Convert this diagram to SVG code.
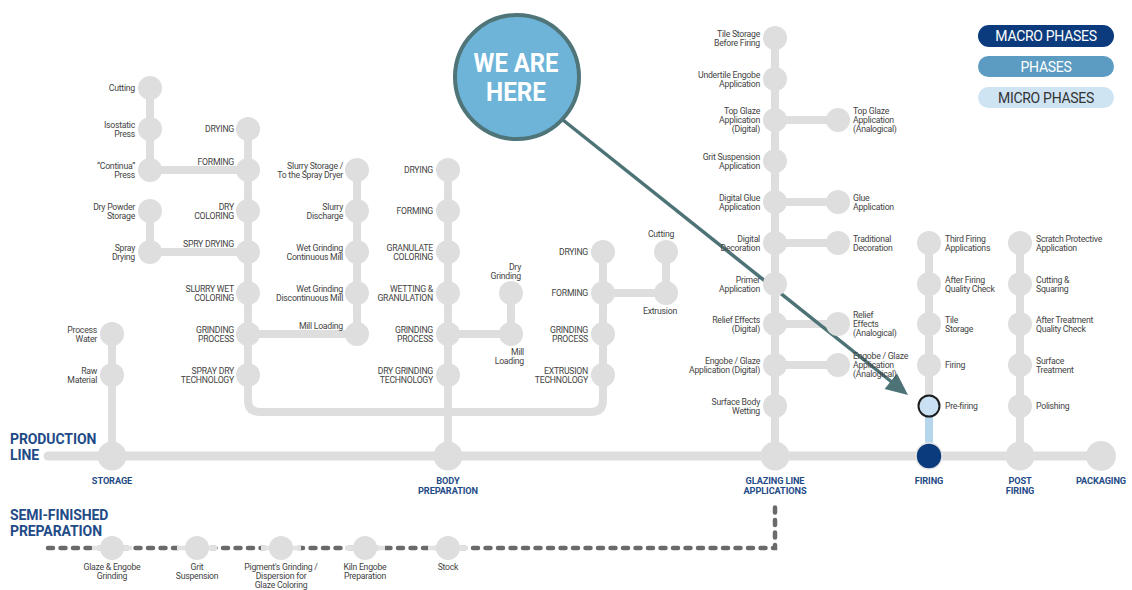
<svg xmlns="http://www.w3.org/2000/svg" width="1132" height="590" viewBox="0 0 1132 590">
<style>
.ln{stroke:#dedede;stroke-width:8;fill:none;stroke-linecap:round;stroke-linejoin:round}
.n{fill:#dedede}
.N{fill:#dedede}
.t{font-family:Roboto,"Liberation Sans",sans-serif;font-size:8.7px;fill:#444444;letter-spacing:-0.25px}
.e{text-anchor:end}
.m{text-anchor:middle}
.b{font-family:Roboto,"Liberation Sans",sans-serif;font-size:9.2px;font-weight:bold;fill:#1f4b87;text-anchor:middle;letter-spacing:-0.1px}
.h{font-family:Roboto,"Liberation Sans",sans-serif;font-size:14px;font-weight:bold;fill:#1f4b87;letter-spacing:-0.1px}
.lg{font-family:Roboto,"Liberation Sans",sans-serif;font-size:14px;text-anchor:middle;letter-spacing:-0.3px}
</style>
<rect width="1132" height="590" fill="#ffffff"/>

<g id="connectors">
<path class="ln" style="stroke-width:9" d="M48,456 H1101"/>
<path class="ln" d="M112,334 V456"/>
<path class="ln" d="M150,88 V170 H248"/>
<path class="ln" d="M150,211 V252 H248"/>
<path class="ln" d="M248,129 V400 Q248,412 260,412 H591 Q603,412 603,400 V252"/>
<path class="ln" d="M248,334 H357 V170"/>
<path class="ln" d="M448,170 V456"/>
<path class="ln" d="M448,334 H511 V293"/>
<path class="ln" d="M603,293 H666 V252"/>
<path class="ln" d="M775,38 V456"/>
<path class="ln" d="M775,120 H838 M775,202 H838 M775,243 H838 M775,324 H838 M775,365 H838"/>
<path class="ln" d="M929,243 V406"/>
<path class="ln" d="M1020,243 V456"/>
<path d="M929,406 V456" stroke="#b5d6ec" stroke-width="8" fill="none"/>
<path d="M48,548 H775 V505" stroke="#6a6a6c" stroke-width="4.5" fill="none" stroke-dasharray="5 7.5" stroke-linecap="round"/>
<path d="M92,548 H132 M177,548 H217 M261,548 H301 M345,548 H385 M428,548 H468" stroke="#e2e2e2" stroke-width="4.5" fill="none"/>
<path d="M563,120 L893,383" stroke="#4d7377" stroke-width="3.5" fill="none"/>
<path d="M908,395 L884.6,389.1 L897,373.5 Z" fill="#4d7377"/>
</g>

<g id="production-line-label"><text class="h" x="10" y="444">PRODUCTION</text><text class="h" x="10" y="460">LINE</text></g>
<g id="semi-finished-label"><text class="h" x="10" y="520">SEMI-FINISHED</text><text class="h" x="10" y="536">PREPARATION</text></g>

<g id="storage"><circle class="N" cx="112" cy="456" r="14.5"/><text class="b" x="112" y="484">STORAGE</text></g>
<g id="body-preparation"><circle class="N" cx="448" cy="456" r="14.5"/><text class="b" x="448" y="484">BODY<tspan x="448" dy="10">PREPARATION</tspan></text></g>
<g id="glazing-line"><circle class="N" cx="775" cy="456" r="14.5"/><text class="b" x="775" y="484">GLAZING LINE<tspan x="775" dy="10">APPLICATIONS</tspan></text></g>
<g id="firing"><circle cx="929" cy="456" r="13" fill="#0b3b7c" stroke="#e6e6e6" stroke-width="1.5"/><text class="b" x="929" y="484">FIRING</text></g>
<g id="post-firing"><circle class="N" cx="1020" cy="456" r="14.5"/><text class="b" x="1020" y="484">POST<tspan x="1020" dy="10">FIRING</tspan></text></g>
<g id="packaging"><circle class="N" cx="1101" cy="456" r="15"/><text class="b" x="1101" y="484">PACKAGING</text></g>

<g id="process-water"><circle class="n" cx="112" cy="334" r="12"/><text class="t e" x="97" y="332.5">Process<tspan x="97" dy="9">Water</tspan></text></g>
<g id="raw-material"><circle class="n" cx="112" cy="375" r="12"/><text class="t e" x="97" y="373.5">Raw<tspan x="97" dy="9">Material</tspan></text></g>

<g id="cutting-1"><circle class="n" cx="150" cy="88" r="12"/><text class="t e" x="135" y="91">Cutting</text></g>
<g id="isostatic-press"><circle class="n" cx="150" cy="129" r="12"/><text class="t e" x="135" y="127.5">Isostatic<tspan x="135" dy="9">Press</tspan></text></g>
<g id="continua-press"><circle class="n" cx="150" cy="170" r="12"/><text class="t e" x="135" y="168.5">“Continua”<tspan x="135" dy="9">Press</tspan></text></g>
<g id="dry-powder-storage"><circle class="n" cx="150" cy="211" r="12"/><text class="t e" x="135" y="209.5">Dry Powder<tspan x="135" dy="9">Storage</tspan></text></g>
<g id="spray-drying"><circle class="n" cx="150" cy="252" r="12"/><text class="t e" x="135" y="250.5">Spray<tspan x="135" dy="9">Drying</tspan></text></g>

<g id="drying-1"><circle class="n" cx="248" cy="129" r="12"/><text class="t e" x="234" y="132">DRYING</text></g>
<g id="forming-1"><circle class="n" cx="248" cy="170" r="12"/><text class="t e" x="234" y="165">FORMING</text></g>
<g id="dry-coloring"><circle class="n" cx="248" cy="211" r="12"/><text class="t e" x="234" y="209.5">DRY<tspan x="234" dy="9">COLORING</tspan></text></g>
<g id="spry-drying"><circle class="n" cx="248" cy="252" r="12"/><text class="t e" x="234" y="247">SPRY DRYING</text></g>
<g id="slurry-wet-coloring"><circle class="n" cx="248" cy="293" r="12"/><text class="t e" x="234" y="291.5">SLURRY WET<tspan x="234" dy="9">COLORING</tspan></text></g>
<g id="grinding-process-1"><circle class="n" cx="248" cy="334" r="12"/><text class="t e" x="234" y="332.5">GRINDING<tspan x="234" dy="9">PROCESS</tspan></text></g>
<g id="spray-dry-technology"><circle class="n" cx="248" cy="375" r="12"/><text class="t e" x="234" y="373.5">SPRAY DRY<tspan x="234" dy="9">TECHNOLOGY</tspan></text></g>

<g id="slurry-storage"><circle class="n" cx="357" cy="170" r="12"/><text class="t e" x="343" y="168.5">Slurry Storage /<tspan x="343" dy="9">To the Spray Dryer</tspan></text></g>
<g id="slurry-discharge"><circle class="n" cx="357" cy="211" r="12"/><text class="t e" x="343" y="209.5">Slurry<tspan x="343" dy="9">Discharge</tspan></text></g>
<g id="wet-grinding-continuous"><circle class="n" cx="357" cy="252" r="12"/><text class="t e" x="343" y="250.5">Wet Grinding<tspan x="343" dy="9">Continuous Mill</tspan></text></g>
<g id="wet-grinding-discontinuous"><circle class="n" cx="357" cy="293" r="12"/><text class="t e" x="343" y="291.5">Wet Grinding<tspan x="343" dy="9">Discontinuous Mill</tspan></text></g>
<g id="mill-loading-1"><circle class="n" cx="357" cy="334" r="12"/><text class="t e" x="343" y="329">Mill Loading</text></g>

<g id="drying-2"><circle class="n" cx="448" cy="170" r="12"/><text class="t e" x="433" y="173">DRYING</text></g>
<g id="forming-2"><circle class="n" cx="448" cy="211" r="12"/><text class="t e" x="433" y="214">FORMING</text></g>
<g id="granulate-coloring"><circle class="n" cx="448" cy="252" r="12"/><text class="t e" x="433" y="250.5">GRANULATE<tspan x="433" dy="9">COLORING</tspan></text></g>
<g id="wetting-granulation"><circle class="n" cx="448" cy="293" r="12"/><text class="t e" x="433" y="291.5">WETTING &amp;<tspan x="433" dy="9">GRANULATION</tspan></text></g>
<g id="grinding-process-2"><circle class="n" cx="448" cy="334" r="12"/><text class="t e" x="433" y="332.5">GRINDING<tspan x="433" dy="9">PROCESS</tspan></text></g>
<g id="dry-grinding-technology"><circle class="n" cx="448" cy="375" r="12"/><text class="t e" x="433" y="373.5">DRY GRINDING<tspan x="433" dy="9">TECHNOLOGY</tspan></text></g>

<g id="dry-grinding"><circle class="n" cx="511" cy="293" r="12"/><text class="t e" x="521" y="270">Dry<tspan x="521" dy="9">Grinding</tspan></text></g>
<g id="mill-loading-2"><circle class="n" cx="511" cy="334" r="12"/><text class="t e" x="524" y="355">Mill<tspan x="524" dy="9">Loading</tspan></text></g>

<g id="drying-3"><circle class="n" cx="603" cy="252" r="12"/><text class="t e" x="588" y="255">DRYING</text></g>
<g id="forming-3"><circle class="n" cx="603" cy="293" r="12"/><text class="t e" x="588" y="296">FORMING</text></g>
<g id="grinding-process-3"><circle class="n" cx="603" cy="334" r="12"/><text class="t e" x="588" y="332.5">GRINDING<tspan x="588" dy="9">PROCESS</tspan></text></g>
<g id="extrusion-technology"><circle class="n" cx="603" cy="375" r="12"/><text class="t e" x="588" y="373.5">EXTRUSION<tspan x="588" dy="9">TECHNOLOGY</tspan></text></g>

<g id="cutting-2"><circle class="n" cx="666" cy="252" r="12"/><text class="t m" x="661" y="237">Cutting</text></g>
<g id="extrusion"><circle class="n" cx="666" cy="293" r="12"/><text class="t m" x="660" y="314">Extrusion</text></g>

<g id="tile-storage-before-firing"><circle class="n" cx="775" cy="38" r="12"/><text class="t e" x="760" y="36.5">Tile Storage<tspan x="760" dy="9">Before Firing</tspan></text></g>
<g id="undertile-engobe"><circle class="n" cx="775" cy="79" r="12"/><text class="t e" x="760" y="77.5">Undertile Engobe<tspan x="760" dy="9">Application</tspan></text></g>
<g id="top-glaze-digital"><circle class="n" cx="775" cy="120" r="12"/><text class="t e" x="760" y="114">Top Glaze<tspan x="760" dy="9">Application</tspan><tspan x="760" dy="9">(Digital)</tspan></text></g>
<g id="grit-suspension-application"><circle class="n" cx="775" cy="161" r="12"/><text class="t e" x="760" y="159.5">Grit Suspension<tspan x="760" dy="9">Application</tspan></text></g>
<g id="digital-glue"><circle class="n" cx="775" cy="202" r="12"/><text class="t e" x="760" y="200.5">Digital Glue<tspan x="760" dy="9">Application</tspan></text></g>
<g id="digital-decoration"><circle class="n" cx="775" cy="243" r="12"/><text class="t e" x="760" y="241.5">Digital<tspan x="760" dy="9">Decoration</tspan></text></g>
<g id="primer-application"><circle class="n" cx="775" cy="284" r="12"/><text class="t e" x="760" y="282.5">Primer<tspan x="760" dy="9">Application</tspan></text></g>
<g id="relief-effects-digital"><circle class="n" cx="775" cy="324" r="12"/><text class="t e" x="760" y="322.5">Relief Effects<tspan x="760" dy="9">(Digital)</tspan></text></g>
<g id="engobe-glaze-digital"><circle class="n" cx="775" cy="365" r="12"/><text class="t e" x="760" y="363.5">Engobe / Glaze<tspan x="760" dy="9">Application (Digital)</tspan></text></g>
<g id="surface-body-wetting"><circle class="n" cx="775" cy="406" r="12"/><text class="t e" x="760" y="404.5">Surface Body<tspan x="760" dy="9">Wetting</tspan></text></g>

<g id="top-glaze-analogical"><circle class="n" cx="838" cy="120" r="12"/><text class="t" x="853" y="114">Top Glaze<tspan x="853" dy="9">Application</tspan><tspan x="853" dy="9">(Analogical)</tspan></text></g>
<g id="glue-application"><circle class="n" cx="838" cy="202" r="12"/><text class="t" x="853" y="200.5">Glue<tspan x="853" dy="9">Application</tspan></text></g>
<g id="traditional-decoration"><circle class="n" cx="838" cy="243" r="12"/><text class="t" x="853" y="241.5">Traditional<tspan x="853" dy="9">Decoration</tspan></text></g>
<g id="relief-effects-analogical"><circle class="n" cx="838" cy="324" r="12"/><text class="t" x="853" y="318">Relief<tspan x="853" dy="9">Effects</tspan><tspan x="853" dy="9">(Analogical)</tspan></text></g>
<g id="engobe-glaze-analogical"><circle class="n" cx="838" cy="365" r="12"/><text class="t" x="853" y="359">Engobe / Glaze<tspan x="853" dy="9">Application</tspan><tspan x="853" dy="9">(Analogical)</tspan></text></g>

<g id="third-firing"><circle class="n" cx="929" cy="243" r="12"/><text class="t" x="945" y="241.5">Third Firing<tspan x="945" dy="9">Applications</tspan></text></g>
<g id="after-firing-check"><circle class="n" cx="929" cy="284" r="12"/><text class="t" x="945" y="282.5">After Firing<tspan x="945" dy="9">Quality Check</tspan></text></g>
<g id="tile-storage"><circle class="n" cx="929" cy="324" r="12"/><text class="t" x="945" y="322.5">Tile<tspan x="945" dy="9">Storage</tspan></text></g>
<g id="firing-micro"><circle class="n" cx="929" cy="365" r="12"/><text class="t" x="945" y="368">Firing</text></g>
<g id="pre-firing"><circle cx="929" cy="406" r="10.5" fill="#c9e1f3" stroke="#1e1e1e" stroke-width="2"/><text class="t" x="945" y="409">Pre-firing</text></g>

<g id="scratch-protective"><circle class="n" cx="1020" cy="243" r="12"/><text class="t" x="1036" y="241.5">Scratch Protective<tspan x="1036" dy="9">Application</tspan></text></g>
<g id="cutting-squaring"><circle class="n" cx="1020" cy="284" r="12"/><text class="t" x="1036" y="282.5">Cutting &amp;<tspan x="1036" dy="9">Squaring</tspan></text></g>
<g id="after-treatment-check"><circle class="n" cx="1020" cy="324" r="12"/><text class="t" x="1036" y="322.5">After Treatment<tspan x="1036" dy="9">Quality Check</tspan></text></g>
<g id="surface-treatment"><circle class="n" cx="1020" cy="365" r="12"/><text class="t" x="1036" y="363.5">Surface<tspan x="1036" dy="9">Treatment</tspan></text></g>
<g id="polishing"><circle class="n" cx="1020" cy="406" r="12"/><text class="t" x="1036" y="409">Polishing</text></g>

<g id="glaze-engobe-grinding"><circle class="n" cx="112" cy="548" r="12"/><text class="t m" x="112" y="570">Glaze &amp; Engobe<tspan x="112" dy="9">Grinding</tspan></text></g>
<g id="grit-suspension"><circle class="n" cx="197" cy="548" r="12"/><text class="t m" x="197" y="570">Grit<tspan x="197" dy="9">Suspension</tspan></text></g>
<g id="pigments-grinding"><circle class="n" cx="281" cy="548" r="12"/><text class="t m" x="281" y="570">Pigment's Grinding /<tspan x="281" dy="9">Dispersion for</tspan><tspan x="281" dy="9">Glaze Coloring</tspan></text></g>
<g id="kiln-engobe"><circle class="n" cx="365" cy="548" r="12"/><text class="t m" x="365" y="570">Kiln Engobe<tspan x="365" dy="9">Preparation</tspan></text></g>
<g id="stock"><circle class="n" cx="448" cy="548" r="12"/><text class="t m" x="448" y="570">Stock</text></g>

<g id="we-are-here"><circle cx="517" cy="77" r="62" fill="#6eb4d8" stroke="#4f7579" stroke-width="4"/><text x="516" y="72" font-family="Roboto,'Liberation Sans',sans-serif" font-size="26" font-weight="bold" fill="#ffffff" text-anchor="middle" textLength="85" lengthAdjust="spacingAndGlyphs">WE ARE</text><text x="516" y="101" font-family="Roboto,'Liberation Sans',sans-serif" font-size="26" font-weight="bold" fill="#ffffff" text-anchor="middle" textLength="60" lengthAdjust="spacingAndGlyphs">HERE</text></g>

<g id="legend-macro"><rect x="978" y="25" width="136" height="22" rx="11" fill="#0b3b7c"/><text class="lg" x="1046" y="41" fill="#ffffff">MACRO PHASES</text></g>
<g id="legend-phases"><rect x="978" y="56" width="136" height="21" rx="10.5" fill="#5c9cc2"/><text class="lg" x="1046" y="71.5" fill="#ffffff">PHASES</text></g>
<g id="legend-micro"><rect x="978" y="87" width="136" height="21" rx="10.5" fill="#cfe4f3"/><text class="lg" x="1046" y="102.5" fill="#333333">MICRO PHASES</text></g>
</svg>
